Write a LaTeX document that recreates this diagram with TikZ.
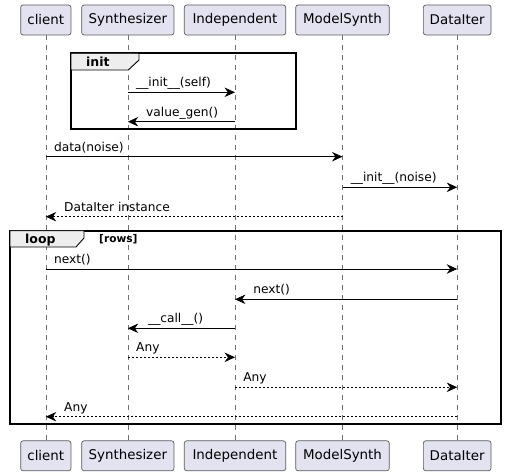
\documentclass[tikz,border=0pt]{standalone}
\usepackage{fontspec}
\setmainfont{DejaVu Sans}
\usetikzlibrary{arrows.meta}

\definecolor{actorfill}{HTML}{E2E2F0}
\definecolor{actorline}{HTML}{5A5A5A}
\definecolor{lifecolor}{HTML}{707070}
\definecolor{tabfill}{HTML}{EEEEEE}

\tikzset{
  actor/.style={draw=actorline, line width=0.7pt, fill=actorfill, rounded corners=2.5pt,
    minimum height=30pt, inner sep=0pt, font=\fontsize{13.4}{15}\selectfont},
  lifeline/.style={draw=lifecolor, line width=0.5pt, dash pattern=on 5pt off 5pt},
  call/.style={-{Stealth[length=10.5pt,width=9.5pt,inset=3.5pt]}, line width=0.75pt},
  reply/.style={call, dash pattern=on 2pt off 2pt},
  msg/.style={font=\fontsize{12.2}{14}\selectfont, anchor=base west,
    inner sep=0pt, yshift=5.5pt},
  frame/.style={draw, line width=1.6pt},
  grouptab/.style={draw, fill=tabfill, line width=0.9pt},
  grouplabel/.style={font=\bfseries\fontsize{12.5}{14}\selectfont,
    anchor=base west, inner sep=0pt},
  guard/.style={font=\bfseries\fontsize{10.6}{12}\selectfont,
    anchor=base west, inner sep=0pt}
}

\begin{document}
\begin{tikzpicture}[x=1pt, y=-1pt]
  \useasboundingbox (0,0) rectangle (506,476);

  % participants, top and bottom, with their lifelines
  \foreach \name/\xpos/\bw/\txt in {cl/45.8/50.3/client, sy/127.8/92.3/Synthesizer,
      ind/235/101.4/Independent, ms/342.5/93.6/ModelSynth, di/457.2/67.7/DataIter}{
    \node[actor, minimum width=\bw pt] (\name) at (\xpos,20) {\txt};
    \node[actor, minimum width=\bw pt] (\name-b) at (\xpos,455.8) {\txt};
    \draw[lifeline] (\name) -- (\name-b);
  }

  % group: init
  \draw[frame] (71,53.3) rectangle (295.7,129);
  \filldraw[grouptab] (71,53.3) -- (139,53.3) -- (139,60) -- (128.3,70) -- (71,70) -- cycle;
  \node[grouplabel] (init-lbl) at (86,66.5) {init};

  \draw[call] (sy |- 0,92.3) -- node[msg, pos=0, xshift=8pt] {\_\_init\_\_(self)} (ind |- 0,92.3);
  \draw[call] (ind |- 0,121.7) -- node[msg, pos=1, xshift=18pt] {value\_gen()} (sy |- 0,121.7);

  \draw[call] (cl |- 0,156.7) -- node[msg, pos=0, xshift=8pt] {data(noise)} (ms |- 0,156.7);
  \draw[call] (ms |- 0,187.3) -- node[msg, pos=0, xshift=8pt] {\_\_init\_\_(noise)} (di |- 0,187.3);
  \draw[reply] (ms |- 0,216.7) -- node[msg, pos=1, xshift=18pt] {DataIter instance} (cl |- 0,216.7);

  % group: loop
  \draw[frame] (10,230.7) rectangle (500.7,424);
  \filldraw[grouptab] (10,230.7) -- (84,230.7) -- (84,238) -- (76,247) -- (10,247) -- cycle;
  \node[grouplabel] (loop-lbl) at (25,243) {loop};
  \node[guard] (loop-guard) at (99,242.5) {[rows]};

  \draw[call] (cl |- 0,269) -- node[msg, pos=0, xshift=8pt] {next()} (di |- 0,269);
  \draw[call] (di |- 0,299.3) -- node[msg, pos=1, xshift=18pt] {next()} (ind |- 0,299.3);
  \draw[call] (ind |- 0,328.3) -- node[msg, pos=1, xshift=20pt] {\_\_call\_\_()} (sy |- 0,328.3);
  \draw[reply] (sy |- 0,357.3) -- node[msg, pos=0, xshift=8pt] {Any} (ind |- 0,357.3);
  \draw[reply] (ind |- 0,387.3) -- node[msg, pos=0, xshift=8pt] {Any} (di |- 0,387.3);
  \draw[reply] (di |- 0,416.7) -- node[msg, pos=1, xshift=18pt] {Any} (cl |- 0,416.7);
\end{tikzpicture}
\end{document}
